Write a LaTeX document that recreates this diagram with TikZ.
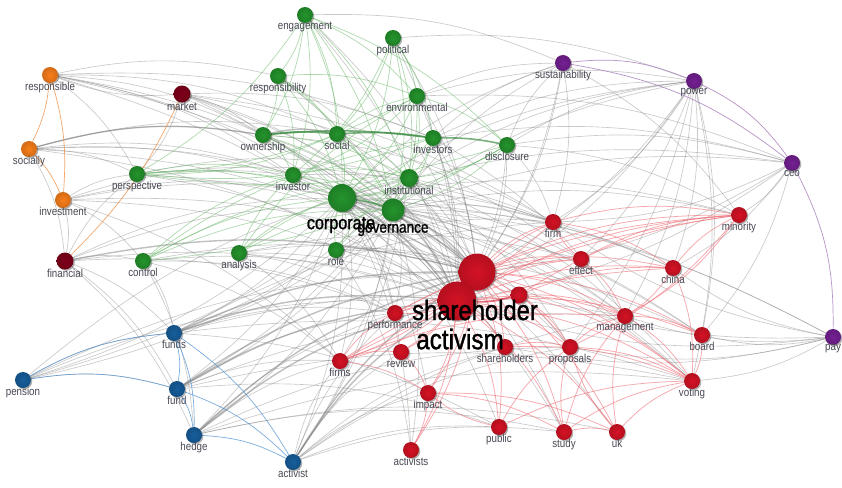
\documentclass[tikz,border=0pt]{standalone}
\usepackage{fontspec}
\setmainfont{Liberation Sans}
\newfontfamily\nf{Liberation Sans}[FakeStretch=0.85]
\newfontfamily\nfb{Liberation Sans}[FakeStretch=0.85,FakeBold=1.2]
\usetikzlibrary{backgrounds,shadows}
\definecolor{cg}{RGB}{36,148,44}
\definecolor{cr}{RGB}{212,18,36}
\definecolor{cm}{RGB}{128,0,26}
\definecolor{co}{RGB}{248,126,26}
\definecolor{cb}{RGB}{22,94,156}
\definecolor{cp}{RGB}{116,32,146}
\definecolor{labc}{RGB}{72,72,84}
\definecolor{egc}{RGB}{110,185,110}
\definecolor{erc}{RGB}{240,110,120}
\definecolor{ebc}{RGB}{80,145,210}
\definecolor{epc}{RGB}{165,120,185}
\definecolor{eoc}{RGB}{240,145,70}
\tikzset{
  vn/.style={circle, inner sep=0pt, draw=none, shading=radial,
    drop shadow={shadow xshift=1.3pt, shadow yshift=-1.3pt, opacity=0.3, fill=black}},
  lab/.style={font=\nf\fontsize{11.5}{12}\selectfont, text=labc, inner sep=0.5pt, anchor=north},
  biglab/.style={text=black, inner sep=0pt},
  ge/.style={draw=gray, opacity=0.42, line width=0.65pt, bend left=12},
  geT/.style={draw=gray, opacity=0.5, line width=1.4pt, bend left=12},
  eg/.style={draw=egc, opacity=0.55, line width=0.7pt, bend left=12},
  egT/.style={draw=cg!70!gray, opacity=0.7, line width=1.6pt, bend left=6},
  er/.style={draw=erc, opacity=0.6, line width=0.75pt, bend left=12},
  erT/.style={draw=cr, opacity=0.6, line width=1.8pt, bend left=8},
  eb/.style={draw=ebc, opacity=0.75, line width=0.7pt, bend left=12},
  ep/.style={draw=epc, opacity=0.8, line width=0.7pt, bend left=14},
  eo/.style={draw=eoc, opacity=0.8, line width=0.7pt, bend left=10},
}
\newcommand{\vnode}[6]{%
  \node[vn, inner color=#5, outer color=#5!85!black, minimum size=#4pt] (#1) at (#2,#3) {};
  \node[lab] (#1-l) at ([yshift=1.5pt]#1.south) {#6};}
\newcommand{\bignode}[5]{%
  \node[vn, inner color=#5, outer color=#5!85!black, minimum size=#4pt] (#1) at (#2,#3) {};}
\begin{document}
\begin{tikzpicture}[x=1pt, y=-1pt]
\useasboundingbox (0,0) rectangle (842,487);
% orange / dark red
\vnode{resp}{50}{75}{16}{co}{responsible}
\vnode{soci}{29}{149}{16}{co}{socially}
\vnode{inve}{63}{200}{16}{co}{investment}
\vnode{mark}{182}{94}{17}{cm}{market}
\vnode{fina}{65}{261}{17}{cm}{financial}
% green
\vnode{enga}{305}{15}{16}{cg}{engagement}
\vnode{poli}{393}{38}{16}{cg}{political}
\vnode{rsby}{278}{76}{16}{cg}{responsibility}
\vnode{envi}{417}{96}{16}{cg}{environmental}
\vnode{owne}{263}{135}{16}{cg}{ownership}
\vnode{socl}{337}{134}{16}{cg}{social}
\vnode{invs}{433}{138}{16}{cg}{investors}
\vnode{disc}{507}{145}{16}{cg}{disclosure}
\vnode{pers}{137}{174}{16}{cg}{perspective}
\vnode{invr}{293}{175}{16}{cg}{investor}
\vnode{inst}{409}{178}{18}{cg}{institutional}
\vnode{anal}{239}{253}{16}{cg}{analysis}
\vnode{role}{336}{250}{16}{cg}{role}
\vnode{cont}{143}{261}{16}{cg}{control}
\bignode{corp}{342}{198}{28}{cg}
\bignode{gov}{393}{210}{23}{cg}
% purple
\vnode{sust}{563}{63}{16}{cp}{sustainability}
\vnode{powe}{694}{81}{16}{cp}{power}
\vnode{ceo}{792}{163}{16}{cp}{ceo}
\vnode{pay}{833}{337}{16}{cp}{pay}
% red
\vnode{firm}{553}{222}{16}{cr}{firm}
\vnode{mino}{739}{215}{16}{cr}{minority}
\vnode{effe}{581}{259}{16}{cr}{effect}
\vnode{chin}{673}{268}{16}{cr}{china}
\vnode{mana}{625}{316}{16}{cr}{management}
\vnode{prop}{570}{347}{16}{cr}{proposals}
\vnode{boar}{702}{335}{16}{cr}{board}
\vnode{voti}{692}{381}{16}{cr}{voting}
\vnode{stud}{564}{432}{16}{cr}{study}
\vnode{uk}{617}{432}{16}{cr}{uk}
\vnode{shrs}{505}{347}{16}{cr}{shareholders}
\vnode{perf}{395}{313}{16}{cr}{performance}
\vnode{revi}{401}{352}{16}{cr}{review}
\vnode{frms}{340}{361}{16}{cr}{firms}
\vnode{impa}{428}{393}{16}{cr}{impact}
\vnode{publ}{499}{427}{16}{cr}{public}
\vnode{acts}{411}{450}{16}{cr}{activists}
\bignode{sh2}{519}{295}{17}{cr}
\bignode{sh}{477}{272}{37}{cr}
\bignode{act}{457}{301}{39}{cr}
% blue
\vnode{fnds}{174}{333}{16}{cb}{funds}
\vnode{pens}{23}{380}{16}{cb}{pension}
\vnode{fund}{177}{389}{16}{cb}{fund}
\vnode{hedg}{194}{435}{16}{cb}{hedge}
\vnode{actv}{293}{462}{16}{cb}{activist}
% big labels
\node[biglab, font=\nfb\fontsize{19}{19}\selectfont] (corp-l) at (341,225) {corporate};
\node[biglab, font=\nfb\fontsize{16}{16}\selectfont] (gov-l) at (393,230) {governance};
\node[biglab, font=\nfb\fontsize{28}{28}\selectfont] (sh-l) at (475,310) {shareholder};
\node[biglab, font=\nfb\fontsize{28.5}{28.5}\selectfont] (act-l) at (460,339) {activism};
% edges
\begin{pgfonlayer}{background}
\fill[white] (0,0) rectangle (842,487);
\foreach \a/\b in {resp/rsby, resp/owne, resp/socl, resp/corp, resp/gov, resp/sh, resp/act, resp/invr, resp/pers, resp/invs,
 soci/owne, soci/corp, soci/gov, soci/sh, soci/act, soci/socl, soci/pers, soci/invr, soci/fina,
 inve/corp, inve/gov, inve/sh, inve/act, inve/pers, inve/cont, inve/fina, inve/invr, inve/frms,
 mark/corp, mark/gov, mark/sh, mark/act, mark/firm, mark/owne, mark/pers, mark/invs, mark/effe, mark/resp,
 fina/corp, fina/gov, fina/act, fina/cont, fina/fund, fina/fnds, fina/perf, fina/pers, fina/hedg,
 pers/sh, pers/act, pers/inst, pers/firm,
 cont/sh, cont/act, cont/frms, cont/perf, cont/fnds, cont/hedg,
 anal/sh, anal/act, anal/frms, anal/perf, anal/effe,
 role/sh, role/act, role/boar, role/firm, role/acts,
 corp/firm, corp/boar, corp/mana, corp/perf, corp/ceo, corp/pay, corp/mino, corp/chin, corp/effe, corp/frms, corp/revi, corp/impa, corp/publ, corp/stud, corp/uk, corp/voti, corp/shrs, corp/prop, corp/sust, corp/powe, corp/fnds, corp/fund, corp/hedg, corp/actv, corp/pens, corp/acts,
 gov/firm, gov/boar, gov/mana, gov/perf, gov/ceo, gov/pay, gov/mino, gov/chin, gov/frms, gov/prop, gov/voti, gov/fnds, gov/fund, gov/hedg, gov/actv, gov/pens, gov/acts, gov/sust, gov/powe, gov/stud,
 inst/sh, inst/act, inst/prop, inst/voti, inst/fnds, inst/pens, inst/fund, inst/actv, inst/powe,
 invs/sh, invs/act, invs/sust, invs/powe, invs/mana, invs/ceo,
 disc/sh, disc/act, disc/powe, disc/sust, disc/firm, disc/ceo, disc/mino,
 envi/sust, envi/sh, envi/act, envi/powe, envi/ceo,
 socl/sh, socl/act, owne/sh, owne/act, owne/firm, rsby/sh, rsby/act, enga/sh, enga/act, enga/sust, poli/sh, poli/powe, poli/act, invr/sh, invr/act, invr/firm,
 sust/sh, sust/act, sust/firm, sust/mino,
 powe/sh, powe/act, powe/firm, powe/prop, powe/mana, powe/voti, powe/boar, powe/effe, powe/chin,
 ceo/sh, ceo/act, ceo/mino, ceo/firm, ceo/boar, ceo/chin,
 pay/sh, pay/act, pay/voti, pay/boar, pay/prop, pay/mana, pay/firm, pay/shrs, pay/chin,
 fnds/firm, fnds/perf, fnds/mana, fund/perf, fund/frms, fund/mana, fund/voti, fund/publ,
 hedg/frms, hedg/perf, hedg/prop, hedg/voti, hedg/stud, hedg/uk,
 actv/perf, actv/frms, actv/mana, actv/prop, actv/impa, actv/publ, actv/stud, actv/shrs, actv/revi,
 pens/sh, pens/act, pens/inst, pens/fnds, pens/fund, fnds/voti, fnds/publ}
  \draw[ge] (\a) to (\b);
\foreach \a/\b in {corp/sh, gov/act, fund/sh, hedg/act, fnds/act, fina/sh, soci/owne, fnds/sh, fund/act, hedg/sh, actv/sh, actv/act, corp/act, gov/sh, owne/socl}
  \draw[geT] (\a) to (\b);
\foreach \a/\b in {enga/rsby, enga/owne, enga/socl, enga/invr, enga/corp, enga/gov, enga/envi, enga/inst, enga/disc, enga/pers,
 poli/socl, poli/envi, poli/corp, poli/gov, poli/invs, poli/inst, poli/invr,
 rsby/corp, rsby/gov, rsby/socl, rsby/owne, rsby/invr, rsby/envi,
 owne/corp, owne/gov, owne/invr, owne/inst,
 socl/corp, socl/gov, socl/inst, socl/envi, socl/pers,
 envi/corp, envi/gov, envi/disc, envi/invr, envi/inst, envi/pers,
 invs/corp, invs/gov, invs/inst, invs/pers,
 disc/corp, disc/gov, disc/inst, disc/pers, disc/cont,
 pers/corp, pers/gov, pers/invr,
 invr/corp, invr/gov, invr/inst, inst/corp, inst/gov,
 anal/corp, anal/gov, anal/invr, anal/envi, anal/inst,
 cont/corp, cont/gov, cont/invr, cont/inst, cont/invs,
 role/corp, role/gov, role/inst}
  \draw[eg] (\a) to (\b);
\foreach \a/\b in {owne/socl, socl/invs, invs/disc, corp/gov, owne/invs}
  \draw[egT] (\a) to (\b);
\foreach \a/\b in {sh/firm, act/firm, sh/effe, act/effe, sh/chin, act/chin, sh/mino, act/mino, chin/mino, effe/mino, firm/chin, firm/mino,
 sh/mana, act/mana, sh/prop, act/prop, prop/mana, sh/boar, act/boar, mana/boar, sh/voti, act/voti, prop/voti, mana/voti, boar/voti,
 sh/shrs, act/shrs, sh/perf, act/perf, sh/revi, act/revi, sh/frms, act/frms, sh/impa, act/impa, sh/publ, act/publ, sh/stud, act/stud, sh/uk, act/uk,
 stud/uk, uk/voti, stud/voti, stud/prop, stud/mana, uk/prop, uk/mana, publ/voti, publ/prop, impa/acts, act/acts, sh/acts, frms/perf, frms/revi, impa/stud,
 sh2/sh, sh2/mana, sh2/voti, sh2/prop, sh2/mino, sh2/chin, mino/mana, mino/prop, chin/mana, effe/firm, firm/perf, publ/impa, frms/impa, revi/impa,
 shrs/prop, shrs/voti, effe/mana, chin/voti, frms/mana, frms/chin, frms/mino, perf/mino, perf/effe, impa/uk}
  \draw[er] (\a) to (\b);
\foreach \a/\b in {sh/act, sh2/act}
  \draw[erT] (\a) to (\b);
\foreach \a/\b in {pens/fnds, pens/fund, fnds/fund, fund/hedg, fnds/hedg, fnds/actv, fund/actv, hedg/actv}
  \draw[eb] (\a) to (\b);
\foreach \a/\b in {sust/powe, sust/ceo, powe/ceo, ceo/pay}
  \draw[ep] (\a) to (\b);
\foreach \a/\b in {resp/soci, resp/inve, soci/inve, mark/fina}
  \draw[eo] (\a) to (\b);
\end{pgfonlayer}
\end{tikzpicture}
\end{document}
